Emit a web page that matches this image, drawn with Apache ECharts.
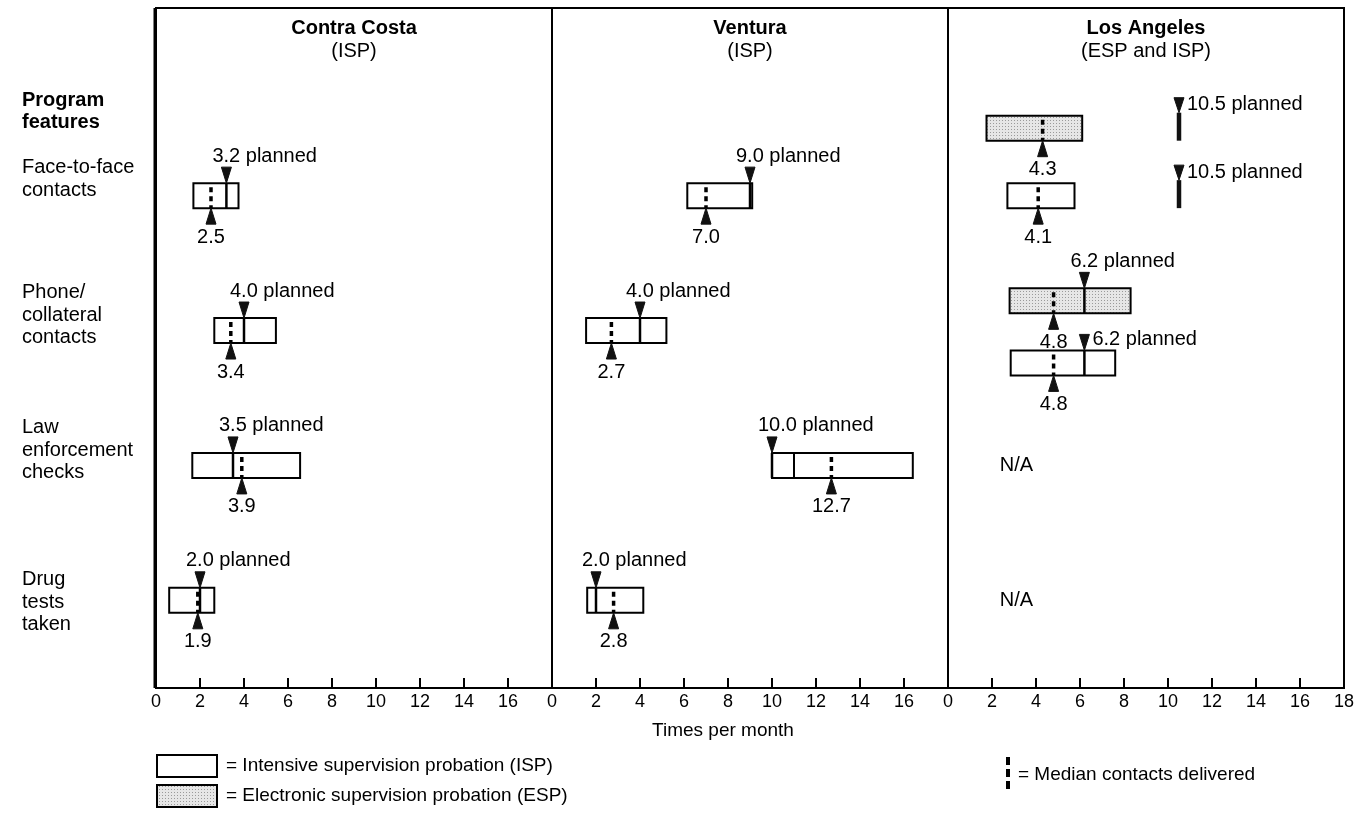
<!DOCTYPE html>
<html><head><meta charset="utf-8">
<script src="https://cdn.jsdelivr.net/npm/echarts@6/dist/echarts.min.js"></script>
<style>html,body{margin:0;padding:0;background:#fff}#c{width:1364px;height:821px}</style>
</head><body><div id="c"></div>
<script>
// ---------- DATA ----------
const panelNames = ['Contra Costa', 'Ventura', 'Los Angeles'];
const panelSubtitles = ['(ISP)', '(ISP)', '(ESP and ISP)'];
const featureLabels = ['Face-to-face\ncontacts', 'Phone/\ncollateral\ncontacts', 'Law\nenforcement\nchecks', 'Drug\ntests\ntaken'];
const xTickValues = [0, 2, 4, 6, 8, 10, 12, 14, 16, 18];

// one entry per box
const boxPanel   = [0, 0, 0, 0,   1, 1, 1, 1,   2, 2, 2, 2];
const boxFeature = [0, 1, 2, 3,   0, 1, 2, 3,   0, 0, 1, 1];
const boxProgram = ['ISP','ISP','ISP','ISP', 'ISP','ISP','ISP','ISP', 'ESP','ISP','ESP','ISP'];
const boxLow     = [1.7, 2.65, 1.65, 0.6,   6.15, 1.55, 10.0, 1.6,   1.75, 2.7, 2.8, 2.85];
const boxHigh    = [3.75, 5.45, 6.55, 2.65,  9.1, 5.2, 16.4, 4.15,   6.1, 5.75, 8.3, 7.6];
const boxMedian  = [2.5, 3.4, 3.9, 1.9,     7.0, 2.7, 12.7, 2.8,    4.3, 4.1, 4.8, 4.8];
const boxPlanned = [3.2, 4.0, 3.5, 2.0,     9.0, 4.0, 10.0, 2.0,    10.5, 10.5, 6.2, 6.2];
const boxInnerLine = [null, null, null, null, null, null, 11.0, null, null, null, null, null];

const naPanel   = [2, 2];
const naFeature = [2, 3];
const naText    = ['N/A', 'N/A'];

// ---------- LAYOUT / STYLE ----------
const rowOffset = [0,0,0,0, 0,0,0,0, -0.5,0,-0.22,0.24];     // vertical shift of LA ESP/ISP boxes (row units)
const plannedLabelPlace = ['above','above','above','above','above','above','above','above','right','right','above','right'];
const naX = 2.35;
const FONT = '"Liberation Sans", Arial, Helvetica, sans-serif';
const FS = 20;
const BOX_H = 25;
const GRID_LEFT = 156, GRID_W = 396, GRID_TOP = 8, GRID_H = 680;

// stippled fill for ESP
const pc = document.createElement('canvas');
pc.width = 3; pc.height = 3;
const pctx = pc.getContext('2d');
pctx.fillStyle = '#e6e6e6'; pctx.fillRect(0, 0, 3, 3);
pctx.fillStyle = '#9a9a9a'; pctx.fillRect(0, 0, 1, 1);
const ESP_FILL = {image: pc, repeat: 'repeat'};

const chart = echarts.init(document.getElementById('c'), null, {renderer: 'canvas'});

function tri(points) {
  return {type: 'polygon', shape: {points}, style: {fill: '#111', stroke: '#111', lineWidth: 1}};
}
function txt(text, x, y, align) {
  return {type: 'text', style: {text, x, y, fill: '#000', font: FS + 'px ' + FONT, align: align, verticalAlign: 'middle'}};
}

function renderBox(params, api) {
  const i = api.value(0);
  const row = boxFeature[i] + rowOffset[i];
  const cy = api.coord([0, row])[1];
  const xl = api.coord([boxLow[i], row])[0];
  const xh = api.coord([boxHigh[i], row])[0];
  const xm = api.coord([boxMedian[i], row])[0];
  const xp = api.coord([boxPlanned[i], row])[0];
  const top = cy - BOX_H / 2, bot = cy + BOX_H / 2;
  const ch = [];
  ch.push({type: 'rect', shape: {x: xl, y: top, width: xh - xl, height: BOX_H},
    style: {fill: boxProgram[i] === 'ESP' ? ESP_FILL : '#fff', stroke: '#000', lineWidth: 2}});
  if (boxInnerLine[i] != null) {
    const xi = api.coord([boxInnerLine[i], row])[0];
    ch.push({type: 'line', shape: {x1: xi, y1: top, x2: xi, y2: bot}, style: {stroke: '#000', lineWidth: 2}});
  }
  const inside = boxPlanned[i] >= boxLow[i] && boxPlanned[i] <= boxHigh[i];
  const plannedText = boxPlanned[i].toFixed(1) + ' planned';
  if (inside) {
    ch.push({type: 'line', shape: {x1: xp, y1: top, x2: xp, y2: bot}, style: {stroke: '#000', lineWidth: 2.5}});
    ch.push(tri([[xp - 5, top - 16], [xp + 5, top - 16], [xp, top]]));
  } else {
    ch.push({type: 'line', shape: {x1: xp, y1: top - 3, x2: xp, y2: bot}, style: {stroke: '#111', lineWidth: 4.5}});
    ch.push(tri([[xp - 5, top - 18], [xp + 5, top - 18], [xp, top - 3]]));
  }
  if (plannedLabelPlace[i] === 'above') {
    ch.push(txt(plannedText, xp - 14, top - 27, 'left'));
  } else {
    ch.push(txt(plannedText, xp + 8, top - 11, 'left'));
  }
  ch.push({type: 'line', shape: {x1: xm, y1: top + 4, x2: xm, y2: bot}, style: {stroke: '#000', lineWidth: 3.5, lineDash: [5, 4]}});
  ch.push(tri([[xm, bot], [xm - 5, bot + 16], [xm + 5, bot + 16]]));
  ch.push(txt(boxMedian[i].toFixed(1), xm, bot + 29, 'center'));
  return {type: 'group', children: ch};
}

function renderNA(params, api) {
  const p = api.coord([api.value(0), api.value(1)]);
  return txt(naText[api.value(2)], p[0], p[1], 'left');
}

const grids = [], xAxes = [], yAxes = [], series = [];
for (let p = 0; p < 3; p++) {
  grids.push({left: GRID_LEFT + p * GRID_W, width: GRID_W, top: GRID_TOP, height: GRID_H,
    show: true, borderColor: '#000', borderWidth: 2, backgroundColor: 'transparent'});
  xAxes.push({gridIndex: p, type: 'value', min: 0, max: 18, interval: 2,
    axisLine: {show: true, onZero: false, lineStyle: {color: '#000', width: 2}},
    axisTick: {show: true, inside: true, length: 10, lineStyle: {color: '#000', width: 2}},
    splitLine: {show: false},
    axisLabel: {color: '#000', fontSize: 18, fontFamily: FONT, margin: 5,
      formatter: (v) => (p < 2 && v === 18) ? '' : String(v)}});
  yAxes.push({gridIndex: p, type: 'value', inverse: true, min: -1.391, max: 3.650, show: false});
  const idx = [];
  boxPanel.forEach((bp, i) => { if (bp === p) idx.push([i]); });
  series.push({type: 'custom', xAxisIndex: p, yAxisIndex: p, renderItem: renderBox, data: idx, silent: true, clip: false});
  const na = [];
  naPanel.forEach((np, k) => { if (np === p) na.push([naX, naFeature[k], k]); });
  if (na.length) {
    series.push({type: 'custom', xAxisIndex: p, yAxisIndex: p, renderItem: renderNA, data: na, silent: true, clip: false});
  }
}

const graphic = [];
for (let p = 0; p < 3; p++) {
  const cx = GRID_LEFT + p * GRID_W + GRID_W / 2;
  graphic.push({type: 'text', x: cx, y: 28, style: {text: panelNames[p], font: 'bold ' + FS + 'px ' + FONT, fill: '#000', align: 'center', verticalAlign: 'middle'}});
  graphic.push({type: 'text', x: cx, y: 51, style: {text: panelSubtitles[p], font: FS + 'px ' + FONT, fill: '#000', align: 'center', verticalAlign: 'middle'}});
}
graphic.push({type: 'line', shape: {x1: GRID_LEFT - 1, y1: GRID_TOP, x2: GRID_LEFT - 1, y2: GRID_TOP + GRID_H}, style: {stroke: '#000', lineWidth: 3}});
graphic.push({type: 'text', x: 22, y: 111, style: {text: 'Program\nfeatures', font: 'bold ' + FS + 'px ' + FONT, fill: '#000', lineHeight: 22, align: 'left', verticalAlign: 'middle'}});
const featureLabelY = [179, 315, 450, 602];
featureLabels.forEach((t, k) => {
  graphic.push({type: 'text', x: 22, y: featureLabelY[k], style: {text: t, font: FS + 'px ' + FONT, fill: '#000', lineHeight: 22.5, align: 'left', verticalAlign: 'middle'}});
});
graphic.push({type: 'text', x: 723, y: 731, style: {text: 'Times per month', font: '19px ' + FONT, fill: '#000', align: 'center', verticalAlign: 'middle'}});
graphic.push({type: 'rect', shape: {x: 157, y: 755, width: 60, height: 22}, style: {fill: '#fff', stroke: '#000', lineWidth: 2}});
graphic.push({type: 'text', x: 226, y: 766, style: {text: '= Intensive supervision probation (ISP)', font: '19px ' + FONT, fill: '#000', align: 'left', verticalAlign: 'middle'}});
graphic.push({type: 'rect', shape: {x: 157, y: 785, width: 60, height: 22}, style: {fill: ESP_FILL, stroke: '#000', lineWidth: 2}});
graphic.push({type: 'text', x: 226, y: 796, style: {text: '= Electronic supervision probation (ESP)', font: '19px ' + FONT, fill: '#000', align: 'left', verticalAlign: 'middle'}});
graphic.push({type: 'line', shape: {x1: 1008, y1: 757, x2: 1008, y2: 789}, style: {stroke: '#000', lineWidth: 4, lineDash: [8, 4]}});
graphic.push({type: 'text', x: 1018, y: 775, style: {text: '= Median contacts delivered', font: '19px ' + FONT, fill: '#000', align: 'left', verticalAlign: 'middle'}});

chart.setOption({
  animation: false,
  backgroundColor: '#fff',
  grid: grids, xAxis: xAxes, yAxis: yAxes, series: series, graphic: graphic
});
</script></body></html>
